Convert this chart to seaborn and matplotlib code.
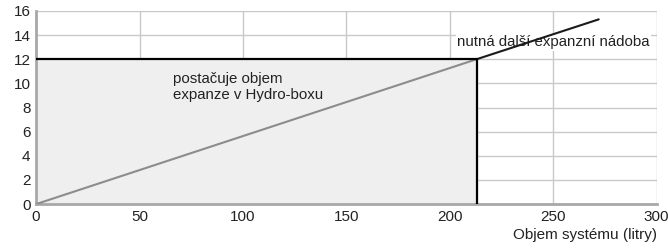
import pandas as pd
import matplotlib.pyplot as plt
import seaborn as sns

# data
limit_volume = 213      # litres, where Hydro-box expansion is no longer enough
limit_level = 12
line_x_in = [0, 213]
line_y_in = [0, 12]
line_x_out = [213, 272]
line_y_out = [12, 15.3]
x_ticks = [0, 50, 100, 150, 200, 250, 300]
y_ticks = [0, 2, 4, 6, 8, 10, 12, 14, 16]

sns.set_theme(style="whitegrid")
plt.rcParams["font.family"] = ["Liberation Sans", "DejaVu Sans"]

fig = plt.figure(figsize=(6.68, 2.48), dpi=100)
ax = fig.add_axes([0.054, 0.177, 0.929, 0.779])

# shaded region: enough expansion volume
ax.fill_between([0, limit_volume], 0, limit_level, color="#efefef", zorder=1)

sns.lineplot(x=line_x_in, y=line_y_in, color="#8c8c8c", linewidth=1.5, ax=ax, zorder=3)
sns.lineplot(x=line_x_out, y=line_y_out, color="#1a1a1a", linewidth=1.5, ax=ax, zorder=3)

ax.plot([0, limit_volume], [limit_level, limit_level], color="black", linewidth=1.6, zorder=4)
ax.plot([limit_volume, limit_volume], [0, limit_level], color="black", linewidth=1.6, zorder=4)

ax.text(66, 10.9, "postačuje objem\nexpanze v Hydro-boxu", fontsize=10.8, color="#222222",
        va="top", ha="left", linespacing=1.15, zorder=5)
ax.text(203.5, 13.4, "nutná další expanzní nádoba", fontsize=10.8, color="#222222",
        va="center", ha="left", zorder=2,
        bbox=dict(facecolor="white", edgecolor="none", pad=1))

ax.set_xlim(0, 300)
ax.set_ylim(0, 16)
ax.set_xticks(x_ticks)
ax.set_yticks(y_ticks)
ax.grid(True, color="#c8c8c8", linewidth=1)
ax.set_axisbelow(True)
ax.tick_params(labelsize=11, colors="#222222", length=0, pad=4)

for side in ["top", "right"]:
    ax.spines[side].set_visible(False)
for side in ["left", "bottom"]:
    ax.spines[side].set_color("#a8a8a8")
    ax.spines[side].set_linewidth(2)

ax.set_xlabel("Objem systému (litry)", fontsize=11, color="#222222", loc="right", labelpad=3)
ax.set_ylabel("")

fig.savefig("out.png", dpi=100)
